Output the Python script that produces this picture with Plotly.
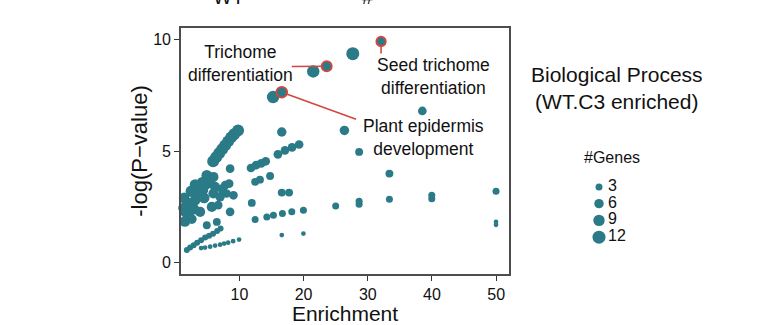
import plotly.graph_objects as go

# GO biological process terms: enrichment vs -log10(P), dot size = #genes
enrichment = [
    27.66, 21.5, 15.25, 38.5, 26.36, 28.65, 33.37, 28.65, 28.65, 33.37,
    39.97, 39.97, 49.98, 49.98, 49.98, 25.0,
    12.45, 14.27, 15.3, 16.7, 18.16, 19.97,
    16.6, 19.97,
    16.6, 17.74, 12.45, 13.2, 14.78, 11.93,
    11.8, 12.6, 13.4, 14.1,
    16.0, 17.1, 18.2, 19.3,
    16.6,
    5.91, 6.37, 6.84, 7.31, 7.77, 8.24, 8.71, 9.17, 9.79,
    8.55, 8.4, 4.92, 5.95, 4.66,
    1.85, 2.08, 3.1, 3.88, 4.92, 5.95, 5.7, 3.88, 6.99, 8.55,
    4.92, 6.48, 9.07, 7.77, 6.7, 8.0,
    1.4, 1.6, 1.5, 3.1, 4.2, 5.5,
    2.5, 2.0, 1.3, 2.9, 4.5, 3.5, 6.2, 2.6, 4.3, 7.3,
    1.81, 2.32, 2.87, 3.41, 4.03, 4.66, 5.28, 5.90, 6.53, 7.07,
    4.03, 4.65, 5.44, 6.21, 6.99, 7.62, 8.24, 9.02, 9.95,
]
neg_log_p = [
    9.35, 8.56, 7.41, 6.79, 5.92, 4.96, 3.99, 2.62, 2.75, 2.84,
    2.86, 3.02, 3.20, 1.70, 1.83, 2.54,
    1.94, 2.05, 2.13, 2.20, 2.28, 2.35,
    1.24, 1.31,
    3.14, 3.14, 3.62, 3.72, 3.88, 2.68,
    4.24, 4.37, 4.45, 4.54,
    4.85, 5.03, 5.16, 5.29,
    5.85,
    4.54, 4.72, 4.90, 5.08, 5.25, 5.43, 5.61, 5.75, 5.92,
    4.21, 3.54, 3.91, 3.84, 3.47,
    2.50, 2.05, 2.80, 3.39, 3.54, 3.10, 2.50, 2.28, 2.95, 2.28,
    1.68, 1.83, 3.02, 3.47, 2.58, 3.10,
    2.90, 2.30, 1.85, 3.50, 3.60, 3.70,
    3.20, 2.65, 2.45, 2.40, 2.90, 3.05, 3.40, 1.95, 3.25, 3.30,
    0.57, 0.68, 0.79, 0.90, 1.01, 1.13, 1.21, 1.30, 1.42, 1.53,
    0.66, 0.68, 0.72, 0.77, 0.81, 0.86, 0.90, 0.97, 1.04,
]
genes = [
    12, 11, 11, 5, 6, 4, 4, 3, 3, 3,
    3, 3, 3, 1, 1, 3,
    3, 3, 3, 3, 3, 3,
    1, 1,
    4, 4, 4, 4, 4, 4,
    5, 5, 5, 5,
    5, 5, 5, 5,
    6,
    10, 10, 10, 10, 10, 10, 10, 10, 10,
    5, 5, 8, 7, 7,
    9, 9, 8, 8, 8, 7, 7, 7, 6, 5,
    4, 4, 5, 5, 5, 5,
    8, 9, 8, 8, 8, 7,
    9, 9, 8, 8, 8, 8, 7, 6, 8, 6,
    2, 2, 2, 2, 2, 2, 2, 2, 2, 2,
    1, 1, 1, 1, 1, 1, 1, 1, 1,
]

# Highlighted terms
hl_terms = ["Seed trichome<br>differentiation", "Trichome<br>differentiation",
            "Plant epidermis<br>development"]
hl_enrichment = [32.07, 23.6, 16.6]
hl_neg_log_p = [9.90, 8.79, 7.63]
hl_genes = [6, 7, 8]

# Label anchors (data units) and leader-line ends for the highlighted terms
label_xy = [(40.3, 8.33), (10.1, 8.92), (38.7, 5.61)]
leader_end = [(32.07, 9.36), (18.16, 8.78), (28.18, 6.42)]

legend_genes = [3, 6, 9, 12]
x_ticks = [10, 20, 30, 40, 50]
y_ticks = [0, 5, 10]

TEAL = "#2a7b87"
RED = "#d2473d"
INK = "#111111"
FONT = "Liberation Sans, Arial, sans-serif"


def dot_size(g):
    # area proportional to gene count
    return (9 + 13.33 * g) ** 0.5


fig = go.Figure()

fig.add_trace(go.Scatter(
    x=enrichment, y=neg_log_p, mode="markers",
    marker=dict(color=TEAL, opacity=1, size=[dot_size(g) for g in genes],
                line=dict(width=0)),
    showlegend=False, cliponaxis=False,
))

# leader lines
for (lx, ly), px, py in zip(leader_end, hl_enrichment, hl_neg_log_p):
    fig.add_trace(go.Scatter(
        x=[lx, px], y=[ly, py], mode="lines",
        line=dict(color=RED, width=1.6), showlegend=False, hoverinfo="skip",
    ))

fig.add_trace(go.Scatter(
    x=hl_enrichment, y=hl_neg_log_p, mode="markers",
    marker=dict(color=TEAL, opacity=1, size=[dot_size(g) for g in hl_genes],
                line=dict(color=RED, width=1.8)),
    showlegend=False, cliponaxis=False,
))

for term, (lx, ly) in zip(hl_terms, label_xy):
    fig.add_annotation(x=lx, y=ly, xref="x", yref="y", text=term, showarrow=False,
                       xanchor="center", yanchor="middle", align="center",
                       font=dict(family=FONT, size=17.5, color=INK))

# size key drawn on its own small axes
fig.add_trace(go.Scatter(
    x=[0] * len(legend_genes), y=list(range(len(legend_genes))), mode="markers",
    marker=dict(color=TEAL, opacity=1, size=[dot_size(g) for g in legend_genes],
                line=dict(width=0)),
    xaxis="x2", yaxis="y2", showlegend=False, cliponaxis=False,
))
fig.add_trace(go.Scatter(
    x=[0.9] * len(legend_genes), y=list(range(len(legend_genes))), mode="text",
    text=[str(g) for g in legend_genes], textposition="middle right",
    textfont=dict(family=FONT, size=16, color=INK),
    xaxis="x2", yaxis="y2", showlegend=False, cliponaxis=False,
))

W, H = 760, 325
ML, MR, MT, MB = 181, 10, 28, 51
PW = W - ML - MR
PH = H - MT - MB


def px_x(x):
    return (x - ML) / PW


def px_y(y):
    return (H - MB - y) / PH


fig.add_annotation(x=px_x(617), y=px_y(88), xref="paper", yref="paper",
                   text="Biological Process<br>(WT.C3 enriched)", showarrow=False,
                   xanchor="center", yanchor="middle", align="center",
                   font=dict(family=FONT, size=21, color=INK))
fig.add_annotation(x=px_x(612), y=px_y(157), xref="paper", yref="paper",
                   text="#Genes", showarrow=False, xanchor="center", yanchor="middle",
                   font=dict(family=FONT, size=16, color=INK))

# header line above the panel (mostly outside the page)
for txt, cx in [("WT", 228), ("#", 368)]:
    fig.add_annotation(x=px_x(cx), y=px_y(10), xref="paper", yref="paper",
                       text=txt, showarrow=False, xanchor="center", yanchor="bottom",
                       font=dict(family=FONT, size=20, color=INK))

axis_common = dict(
    showline=True, linecolor="#4d4d4d", linewidth=1.6, mirror=True,
    ticks="outside", ticklen=5, tickwidth=1.2, tickcolor="#333333",
    showgrid=False, zeroline=False, automargin=False,
    tickfont=dict(family=FONT, size=16, color=INK),
)

fig.update_layout(
    width=W, height=H,
    margin=dict(l=ML, r=MR, t=MT, b=MB),
    paper_bgcolor="white", plot_bgcolor="white",
    xaxis=dict(domain=[0, (509 - ML) / PW], range=[0.9, 52.0],
               tickvals=x_ticks,
               title=dict(text="Enrichment", standoff=6,
                          font=dict(family=FONT, size=21, color=INK)),
               **axis_common),
    yaxis=dict(range=[-0.5, 10.5], tickvals=y_ticks,
               title=dict(text="-log(P\u2212value)", standoff=0,
                          font=dict(family=FONT, size=22, color=INK)),
               **axis_common),
    xaxis2=dict(domain=[px_x(589), px_x(649)], range=[-1, 5], anchor="y2",
                visible=False),
    yaxis2=dict(domain=[px_y(245.5), px_y(178.5)], range=[3.5, -0.5], anchor="x2",
                visible=False),
)

fig.write_html("out.html")
